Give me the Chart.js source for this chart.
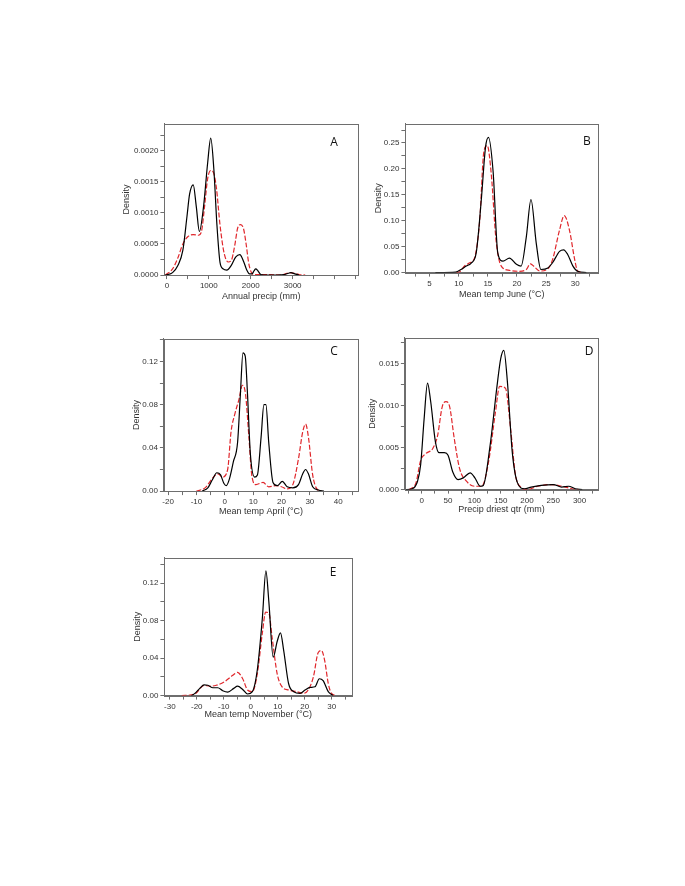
<!DOCTYPE html>
<html>
<head>
<meta charset="utf-8">
<script src="https://cdn.jsdelivr.net/npm/chart.js@4.4.1/dist/chart.umd.min.js"></script>
<style>
    body { margin: 0; background: #fff; }
    #page { position: relative; width: 685px; height: 886px; overflow: hidden; }
    canvas { position: absolute; }
    .tag { position: absolute; font-family: "Open Sans", "Liberation Sans", sans-serif; font-size: 12px; color: #111; transform: translate(-50%, -50%); }
</style>
</head>
<body>
<div id="page"></div>
<script>
// ---------------- Data ----------------
// A: annual precip (mm)
const aBlackX = [-37, 135, 258, 381, 480, 541, 628, 701, 775, 874, 972, 1046, 1120, 1194, 1268, 1341, 1428, 1540, 1640, 1740, 1830, 1900, 1970, 2030, 2080, 2120, 2170, 2240, 2400, 2800, 2900, 2960, 3050, 3150];
const aBlackY = [0, 0.00004, 0.00015, 0.0004, 0.00095, 0.0013, 0.00145, 0.0011, 0.0007, 0.0011, 0.0018, 0.0022, 0.0017, 0.0008, 0.0002, 0.0001, 0.00008, 0.00016, 0.00029, 0.00033, 0.00022, 0.00009, 0.00002, 0.00002, 0.00007, 0.0001, 0.00007, 0.00001, 0, 0.00001, 0.00003, 0.00004, 0.00002, 0];
const aRedX = [-37, 135, 258, 381, 504, 628, 751, 824, 898, 972, 1046, 1108, 1181, 1268, 1366, 1465, 1540, 1620, 1690, 1760, 1830, 1890, 1950, 2010, 2080, 2400, 2700, 2830, 2930, 3030, 3150, 3300];
const aRedY = [0, 0.0001, 0.00027, 0.0005, 0.00062, 0.00065, 0.00064, 0.0007, 0.0011, 0.00155, 0.00168, 0.00165, 0.0014, 0.0008, 0.00035, 0.00021, 0.00024, 0.00048, 0.00076, 0.00081, 0.00074, 0.0005, 0.0002, 0.00005, 0.00001, 0.00001, 0, 0.00002, 0.00004, 0.00003, 0.00001, 0];
const aTicksX = [0, 1000, 2000, 3000];
const aTicksY = [0, 0.0005, 0.001, 0.0015, 0.002];

// B: mean temp June
const bBlackX = [6, 9.5, 10.4, 11.3, 12.1, 13, 13.9, 14.6, 15.1, 15.9, 16.7, 17.6, 18.7, 19.9, 20.7, 21.6, 22.4, 23.3, 24.1, 25.3, 26.1, 27.3, 28, 28.7, 29.6, 30.4, 31.9];
const bBlackY = [0, 0.001, 0.006, 0.0126, 0.018, 0.038, 0.144, 0.242, 0.261, 0.195, 0.038, 0.022, 0.028, 0.016, 0.0126, 0.069, 0.141, 0.057, 0.006, 0.009, 0.019, 0.041, 0.044, 0.035, 0.0126, 0.0025, 0];
const bRedX = [9.6, 10.1, 11, 11.9, 12.7, 13.6, 14.3, 14.9, 15.6, 16.4, 17.3, 18.7, 20.4, 21.6, 22.3, 23, 23.9, 25.3, 26.1, 27.3, 28.1, 29, 29.9, 30.4, 31.3];
const bRedY = [0, 0.001, 0.0126, 0.019, 0.028, 0.1, 0.232, 0.245, 0.188, 0.063, 0.0126, 0.0044, 0.0025, 0.006, 0.017, 0.011, 0.003, 0.0075, 0.025, 0.082, 0.11, 0.082, 0.025, 0.003, 0];
const bTicksX = [5, 10, 15, 20, 25, 30];
const bTicksY = [0, 0.05, 0.1, 0.15, 0.2, 0.25];

// C: mean temp April
const cBlackX = [-8, -6, -4.5, -2.8, -1.5, -0.3, 0.5, 1.7, 3, 4.5, 5.5, 6.4, 7.2, 8, 9, 10.5, 11.5, 12.8, 13.8, 14.5, 15.5, 17, 18.5, 20.3, 22, 24, 26, 27.5, 28.5, 29.5, 31, 33, 35];
const cBlackY = [0, 0.003, 0.01, 0.017, 0.015, 0.007, 0.005, 0.012, 0.027, 0.045, 0.09, 0.128, 0.125, 0.09, 0.035, 0.013, 0.015, 0.05, 0.08, 0.08, 0.045, 0.008, 0.005, 0.009, 0.004, 0.003, 0.006, 0.016, 0.02, 0.016, 0.004, 0.001, 0];
const cRedX = [-10, -7, -4, -2.5, -0.8, 1, 2.2, 3.6, 5, 6.2, 7.3, 8.5, 9.5, 11, 13.5, 15.5, 18, 20, 22, 24, 26, 27.5, 28.5, 29.5, 31, 32.5, 34];
const cRedY = [0, 0.003, 0.013, 0.016, 0.013, 0.02, 0.055, 0.072, 0.085, 0.098, 0.09, 0.05, 0.015, 0.006, 0.008, 0.004, 0.005, 0.004, 0.002, 0.006, 0.03, 0.055, 0.062, 0.05, 0.015, 0.002, 0];
const cTicksX = [-20, -10, 0, 10, 20, 30, 40];
const cTicksY = [0, 0.04, 0.08, 0.12];

// D: precip driest quarter (mm)
const dBlackX = [-31, -18, -8, -2, 4.5, 11, 17, 26, 33, 43, 50, 59, 69, 79, 92, 101, 111, 117, 130, 143, 150, 156, 163, 172, 182, 195, 208, 227, 250, 266, 279, 292, 305];
const dBlackY = [0, 0.0001, 0.001, 0.003, 0.0084, 0.0127, 0.0105, 0.0057, 0.0044, 0.0044, 0.0041, 0.0021, 0.0012, 0.0014, 0.002, 0.0014, 0.0004, 0.0005, 0.0053, 0.0123, 0.0156, 0.0166, 0.0127, 0.0045, 0.0008, 0.0001, 0.0003, 0.0005, 0.0006, 0.0003, 0.0004, 0.0001, 0];
const dRedX = [-24, -11, -2, 8, 21, 30, 39, 46, 53, 62, 72, 85, 101, 114, 127, 140, 148, 159, 169, 178, 188, 201, 220, 246, 266, 285, 298];
const dRedY = [0, 0.0008, 0.0035, 0.0043, 0.0049, 0.0064, 0.0099, 0.0105, 0.0099, 0.006, 0.0025, 0.001, 0.0004, 0.0004, 0.0033, 0.0092, 0.0123, 0.0121, 0.0072, 0.0018, 0.0003, 0, 0.0004, 0.0006, 0.0004, 0.0001, 0];
const dTicksX = [0, 50, 100, 150, 200, 250, 300];
const dTicksY = [0, 0.005, 0.01, 0.015];

// E: mean temp November
const eBlackX = [-22, -20.7, -18.9, -17.3, -15.9, -14, -12.2, -10.4, -8.5, -6.3, -4.9, -3, -1.2, 0.6, 2.4, 4.3, 5.6, 6.7, 8.3, 9.8, 11, 12.2, 14, 15.9, 18.3, 20.1, 22, 23.8, 25.4, 26.8, 28.7, 30.5];
const eBlackY = [0, 0.0024, 0.0077, 0.0115, 0.011, 0.0084, 0.0084, 0.0052, 0.0038, 0.0077, 0.0101, 0.0066, 0.0017, 0.0042, 0.027, 0.083, 0.133, 0.1, 0.041, 0.058, 0.067, 0.048, 0.0129, 0.0042, 0.0024, 0.0059, 0.0087, 0.0094, 0.018, 0.016, 0.0042, 0];
const eRedX = [-25.6, -20.7, -17.3, -15.2, -12.8, -9.8, -6.7, -4.9, -3, -1.2, 0.6, 2.4, 4.3, 5.5, 6.7, 7.9, 9.8, 11.6, 14, 17, 19.5, 21.3, 23.2, 25, 26.2, 27.4, 28.7, 29.9, 31.7];
const eRedY = [0, 0.0017, 0.011, 0.01, 0.011, 0.0147, 0.0216, 0.0248, 0.018, 0.006, 0.0042, 0.023, 0.067, 0.089, 0.088, 0.062, 0.023, 0.0094, 0.006, 0.0042, 0.0024, 0.006, 0.02, 0.046, 0.048, 0.037, 0.013, 0.0024, 0];
const eTicksX = [-30, -20, -10, 0, 10, 20, 30];
const eTicksY = [0, 0.04, 0.08, 0.12];


// ---------------- Helpers ----------------
const FONT = '"Liberation Sans", Arial, sans-serif';
const AXIS_GRAY = '#6e6e6e';

function toPoints(xs, ys) {
    return xs.map((x, i) => ({ x: x, y: ys[i] }));
}

// one minor tick between each pair of major ticks, also past the ends
function withMinor(major, min, max) {
    const step = major[1] - major[0];
    const out = [];
    for (let v = major[0] - step; v <= max + 1e-9; v += step / 2) {
        if (v < min - 1e-9) continue;
        const isMajor = major.some(m => Math.abs(m - v) < step * 1e-6);
        out.push({ value: v, major: isMajor });
    }
    return out;
}

const framePlugin = {
    id: 'frame',
    afterDraw(chart) {
        const { ctx, chartArea: a } = chart;
        ctx.save();
        ctx.strokeStyle = AXIS_GRAY;
        ctx.lineWidth = 1;
        ctx.strokeRect(Math.round(a.left) + 0.5, Math.round(a.top) + 0.5,
            Math.round(a.right - a.left), Math.round(a.bottom - a.top));
        ctx.restore();
    }
};


// ---------------- Panel ----------------
function makePanel(p) {
    const left = p.yTitleX - 5.4;
    const top = p.box.T - 4;
    const right = p.box.R + 4;
    const bottom = p.xTitleY + 5.4;

    const canvas = document.createElement('canvas');
    canvas.width = Math.round(right - left);
    canvas.height = Math.round(bottom - top);
    canvas.style.left = left + 'px';
    canvas.style.top = top + 'px';
    document.getElementById('page').appendChild(canvas);

    const tag = document.createElement('div');
    tag.className = 'tag';
    tag.textContent = p.letter;
    tag.style.left = p.letterPos[0] + 'px';
    tag.style.top = p.letterPos[1] + 'px';
    document.getElementById('page').appendChild(tag);

    const xTicks = withMinor(p.ticksX, p.xRange[0], p.xRange[1]);
    const yTicks = withMinor(p.ticksY, p.yRange[0], p.yRange[1]);
    const yW = p.box.L - left;
    const xH = bottom - p.box.B;

    new Chart(canvas.getContext('2d'), {
        type: 'line',
        data: {
            datasets: [{
                data: toPoints(p.blackX, p.blackY),
                borderColor: '#000',
                borderWidth: 1.2,
                pointRadius: 0,
                cubicInterpolationMode: 'monotone',
                fill: false
            }, {
                data: toPoints(p.redX, p.redY),
                borderColor: '#e0262b',
                borderWidth: 1.2,
                borderDash: [5, 2],
                pointRadius: 0,
                cubicInterpolationMode: 'monotone',
                fill: false
            }]
        },
        options: {
            responsive: false,
            animation: false,
            devicePixelRatio: 1,
            layout: { padding: { top: 4, right: 4, left: 0, bottom: 0 } },
            plugins: { legend: { display: false }, tooltip: { enabled: false } },
            scales: {
                x: {
                    type: 'linear',
                    min: p.xRange[0],
                    max: p.xRange[1],
                    afterFit: s => { s.height = xH; },
                    afterBuildTicks: s => { s.ticks = xTicks.map(t => ({ value: t.value, major: t.major })); },
                    border: { display: true, color: AXIS_GRAY },
                    grid: { drawOnChartArea: false, drawTicks: true, tickLength: 4, color: AXIS_GRAY },
                    ticks: {
                        autoSkip: false,
                        maxRotation: 0,
                        padding: 2,
                        color: '#333',
                        font: { family: FONT, size: 8 },
                        callback: (v, i) => xTicks[i] && xTicks[i].major ? String(v) : ''
                    },
                    title: {
                        display: true,
                        text: p.xTitle,
                        color: '#333',
                        padding: 0,
                        font: { family: FONT, size: 9 }
                    }
                },
                y: {
                    type: 'linear',
                    min: p.yRange[0],
                    max: p.yRange[1],
                    afterFit: s => { s.width = yW; },
                    afterBuildTicks: s => { s.ticks = yTicks.map(t => ({ value: t.value, major: t.major })); },
                    border: { display: true, color: AXIS_GRAY },
                    grid: { drawOnChartArea: false, drawTicks: true, tickLength: 4, color: AXIS_GRAY },
                    ticks: {
                        autoSkip: false,
                        padding: 2,
                        color: '#333',
                        font: { family: FONT, size: 8 },
                        callback: (v, i) => yTicks[i] && yTicks[i].major ? v.toFixed(p.decimals) : ''
                    },
                    title: {
                        display: true,
                        text: 'Density',
                        color: '#333',
                        padding: 0,
                        font: { family: FONT, size: 9 }
                    }
                }
            }
        },
        plugins: [framePlugin]
    });
}


// ---------------- Build Figure ----------------
makePanel({
    letter: 'A', letterPos: [334, 141],
    box: { L: 164, R: 358, T: 121, B: 275 }, yTitleX: 126, xTitleY: 296.5,
    xRange: [-60, 4560], yRange: [0, 0.00243], decimals: 4,
    blackX: aBlackX, blackY: aBlackY, redX: aRedX, redY: aRedY,
    ticksX: aTicksX, ticksY: aTicksY, xTitle: 'Annual precip (mm)'
});

makePanel({
    letter: 'B', letterPos: [587, 140],
    box: { L: 405, R: 598, T: 121, B: 273 }, yTitleX: 378, xTitleY: 295,
    xRange: [0.85, 33.9], yRange: [0, 0.287], decimals: 2,
    blackX: bBlackX, blackY: bBlackY, redX: bRedX, redY: bRedY,
    ticksX: bTicksX, ticksY: bTicksY, xTitle: 'Mean temp June (°C)'
});

makePanel({
    letter: 'C', letterPos: [334, 350],
    box: { L: 164, R: 358, T: 336, B: 491 }, yTitleX: 136.5, xTitleY: 511.5,
    xRange: [-21.5, 47], yRange: [0, 0.141], decimals: 2,
    blackX: cBlackX, blackY: cBlackY, redX: cRedX, redY: cRedY,
    ticksX: cTicksX, ticksY: cTicksY, xTitle: 'Mean temp April (°C)'
});

makePanel({
    letter: 'D', letterPos: [589, 350],
    box: { L: 405, R: 598, T: 335, B: 490 }, yTitleX: 372.5, xTitleY: 510,
    xRange: [-32, 335], yRange: [0, 0.0181], decimals: 3,
    blackX: dBlackX, blackY: dBlackY, redX: dRedX, redY: dRedY,
    ticksX: dTicksX, ticksY: dTicksY, xTitle: 'Precip driest qtr (mm)'
});

makePanel({
    letter: 'E', letterPos: [333, 571],
    box: { L: 164, R: 352, T: 555, B: 696 }, yTitleX: 137, xTitleY: 715,
    xRange: [-32, 37.5], yRange: [0, 0.147], decimals: 2,
    blackX: eBlackX, blackY: eBlackY, redX: eRedX, redY: eRedY,
    ticksX: eTicksX, ticksY: eTicksY, xTitle: 'Mean temp November (°C)'
});
</script>
</body>
</html>
